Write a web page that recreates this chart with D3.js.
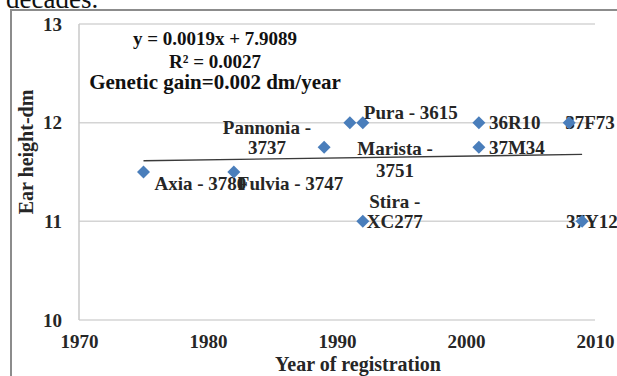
<!DOCTYPE html>
<html>
<head>
<meta charset="utf-8">
<script src="https://cdn.jsdelivr.net/npm/d3@7"></script>
<style>
  html, body { margin: 0; padding: 0; background: #fff; }
  svg { display: block; }
  text { font-family: "Liberation Serif", "Times New Roman", serif; }
</style>
</head>
<body>
<svg id="chart" width="617" height="376"></svg>
<script>
// ---- data ----
const hybrids = ["Axia - 3780", "Fulvia - 3747", "Pannonia - 3737", "Pura - 3615", "Marista - 3751",
                 "Stira - XC277", "36R10", "37M34", "37F73", "37Y12"];
const years   = [1975, 1982, 1991, 1992, 1989, 1992, 2001, 2001, 2008, 2009];
const heights = [11.5, 11.5, 12, 12, 11.75, 11, 12, 11.75, 12, 11];
const xTicks  = [1970, 1980, 1990, 2000, 2010];
const yTicks  = [10, 11, 12, 13];
const annotations = ["y = 0.0019x + 7.9089", "R\u00b2 = 0.0027", "Genetic gain=0.002 dm/year"];
const xTitle = "Year of registration";
const yTitle = "Ear height-dm";

// label layout (how each data label line is split and placed)
const labelLines = [["Axia - 3780"], ["Fulvia - 3747"], ["Pannonia -", "3737"], ["Pura - 3615"],
                    ["Marista -", "3751"], ["Stira -", "XC277"], ["36R10"], ["37M34"], ["37F73"], ["37Y12"]];
const labelPlace = [
  {a: "start", dx: 11, dy: [11]},
  {a: "start", dx: 4, dy: [11]},
  {a: "middle", dx: -83, dy: [5, 25]},
  {a: "start", dx: 1, dy: [-10]},
  {a: "middle", dx: 71, dy: [1, 23]},
  {a: "middle", dx: 32, dy: [-20, 0]},
  {a: "start", dx: 10, dy: [0]},
  {a: "start", dx: 10, dy: [0]},
  {a: "start", dx: -4, dy: [0]},
  {a: "start", dx: -16, dy: [0]}
];

const svg = d3.select("#chart");
const mLeft = 79, mRight = 595, mTop = 24, mBottom = 320;
const x = d3.scaleLinear().domain([1970, 2010]).range([mLeft, mRight]);
const y = d3.scaleLinear().domain([10, 13]).range([mBottom, mTop]);
const textColor = "#262626";

// caption fragment above the chart
svg.append("text").attr("x", 6).attr("y", 8).attr("font-size", 27).attr("fill", "#111").text("decades.");

// outer frame
svg.append("rect").attr("x", 11).attr("y", 10).attr("width", 640).attr("height", 400)
  .attr("fill", "none").attr("stroke", "#8c8c8c").attr("stroke-width", 2);

// gridlines
svg.append("g").selectAll("line").data(yTicks).join("line")
  .attr("x1", mLeft).attr("x2", mRight)
  .attr("y1", d => y(d)).attr("y2", d => y(d))
  .attr("stroke", "#d4d4d4").attr("stroke-width", 1.5);
// vertical axis line
svg.append("line").attr("x1", mLeft).attr("x2", mLeft).attr("y1", y(13)).attr("y2", y(10))
  .attr("stroke", "#c8c8c8").attr("stroke-width", 1.5);

// axes (labels only)
const xAxis = svg.append("g").attr("transform", `translate(0,${mBottom})`)
  .call(d3.axisBottom(x).tickValues(xTicks).tickFormat(d3.format("d")).tickSize(0).tickPadding(15));
const yAxis = svg.append("g").attr("transform", `translate(${mLeft},0)`)
  .call(d3.axisLeft(y).tickValues(yTicks).tickFormat(d3.format("d")).tickSize(0).tickPadding(17));
[xAxis, yAxis].forEach(g => {
  g.select(".domain").remove();
  g.selectAll("text").attr("font-family", "Liberation Serif, Times New Roman, serif")
    .attr("font-size", 19).attr("font-weight", "bold").attr("fill", textColor);
});

// axis titles
svg.append("text").attr("x", 358).attr("y", 371).attr("text-anchor", "middle")
  .attr("font-size", 20).attr("font-weight", "bold").attr("fill", textColor).text(xTitle);
svg.append("text").attr("transform", "translate(33,152) rotate(-90)").attr("text-anchor", "middle")
  .attr("font-size", 20).attr("font-weight", "bold").attr("fill", textColor).text(yTitle);

// linear regression trendline
const mx = d3.mean(years), my = d3.mean(heights);
const sxy = d3.sum(years, (v, i) => (v - mx) * (heights[i] - my));
const sxx = d3.sum(years, v => (v - mx) * (v - mx));
const slope = sxy / sxx, intercept = my - slope * mx;
const [x0, x1] = d3.extent(years);
svg.append("line")
  .attr("x1", x(x0)).attr("y1", y(intercept + slope * x0))
  .attr("x2", x(x1)).attr("y2", y(intercept + slope * x1))
  .attr("stroke", "#3a3a3a").attr("stroke-width", 1.4);

// annotations
const annY = [45, 68, 89], annSize = [19, 19, 21];
svg.append("g").selectAll("text").data(annotations).join("text")
  .attr("x", 215).attr("y", (d, i) => annY[i]).attr("text-anchor", "middle")
  .attr("font-size", (d, i) => annSize[i]).attr("font-weight", "bold").attr("fill", "#111")
  .text(d => d);

// data labels
const lab = svg.append("g");
hybrids.forEach((h, i) => {
  const p = labelPlace[i];
  const t = lab.append("text").attr("text-anchor", p.a)
    .attr("font-size", 19).attr("font-weight", "bold").attr("fill", textColor);
  labelLines[i].forEach((ln, k) => {
    t.append("tspan").attr("x", x(years[i]) + p.dx).attr("y", y(heights[i]) + p.dy[k])
      .attr("dominant-baseline", "central").text(ln);
  });
});

// diamond markers
const r = 6.5;
svg.append("g").selectAll("path").data(years).join("path")
  .attr("d", (d, i) => {
    const cx = x(d), cy = y(heights[i]);
    return `M${cx},${cy - r}L${cx + r},${cy}L${cx},${cy + r}L${cx - r},${cy}Z`;
  })
  .attr("fill", "#4a7ebb");
</script>
</body>
</html>
